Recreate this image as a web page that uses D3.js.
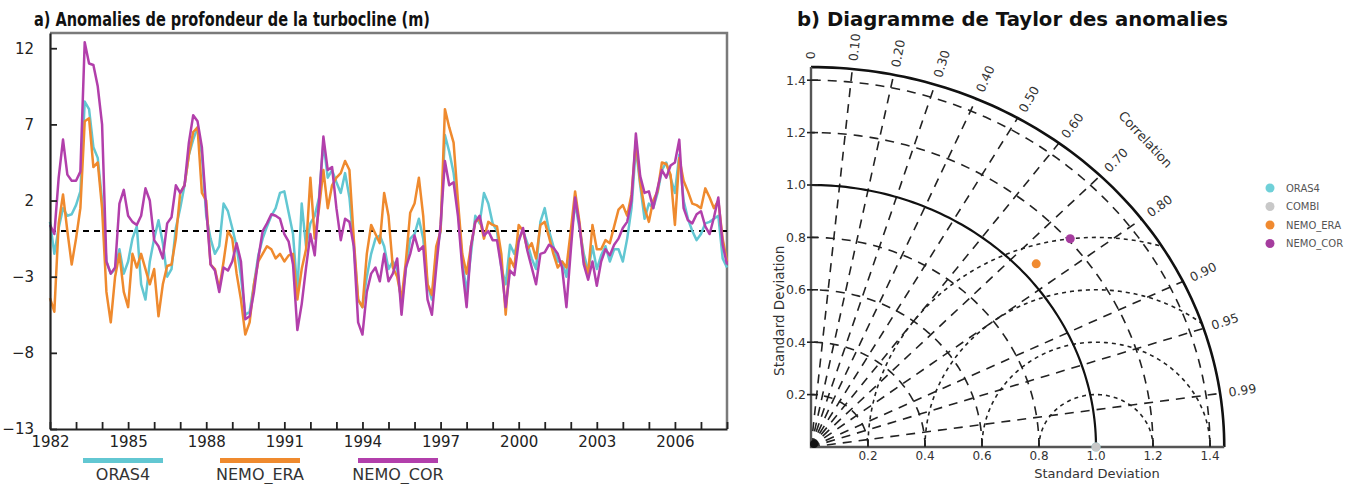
<!DOCTYPE html>
<html><head><meta charset="utf-8">
<script src="https://cdn.jsdelivr.net/npm/d3@7"></script>
<style>body{margin:0;background:#fff} svg{display:block}</style>
</head><body>
<svg id="c" width="1360" height="484"></svg>
<script>
// ---------- DATA: panel a (anomalies, m), one value every 2 months 1982.0 -> 2008.0 ----------
const startYear = 1982;
const endYear = 2008;
const stepsPerYear = 6;
const oras4 = [0.6,-1.5,0.2,1.5,1.0,1.1,1.7,2.6,8.5,8.0,5.5,4.8,2.0,-2.0,-2.8,-2.5,-1.2,-2.8,-2.0,-0.5,0.3,-3.5,-4.5,-2.0,-0.5,0.7,-0.8,-3.0,-2.5,0.2,1.5,3.0,5.0,6.0,6.8,5.0,1.0,-0.5,-1.5,-1.0,1.8,1.3,0.2,-1.0,-3.0,-5.5,-5.3,-3.5,-1.6,-0.5,0.3,1.0,1.5,2.5,2.6,1.2,-0.2,-4.0,1.8,-1.0,0.5,1.0,2.2,5.8,3.5,4.0,3.2,2.5,3.8,2.2,-1.0,-4.5,-5.0,-3.0,-1.5,-0.5,-0.3,-1.0,-2.5,-2.0,-2.5,-4.8,-2.5,-0.5,-0.2,0.8,-0.5,-3.5,-4.5,-1.5,0.0,6.3,5.2,3.8,1.5,-2.0,-4.0,-1.5,1.0,0.5,2.5,1.8,0.5,0.0,-2.4,-3.5,-0.9,-1.5,-0.5,0.0,-0.8,-1.8,-2.5,0.6,1.5,0.0,-1.0,-2.0,-2.0,-3.0,-0.5,1.8,0.2,-1.5,-2.6,-1.0,-2.5,-1.6,-1.0,-2.0,-1.2,-1.2,-2.0,-0.5,1.5,5.5,3.0,0.8,1.8,1.5,2.5,4.0,4.5,3.5,2.5,5.0,2.0,0.8,0.0,-0.6,-0.2,0.5,0.6,0.8,1.0,-1.8,-2.4];
const nemoEra = [-4.4,-5.3,0.5,2.4,0.0,-2.2,-0.5,1.5,7.2,7.4,4.2,4.5,1.5,-4.0,-6.0,-3.0,-1.5,-4.0,-5.0,-1.5,-2.4,-1.5,-2.5,-3.5,-2.5,-5.6,-3.5,-2.3,-2.2,-0.5,2.5,3.0,5.0,6.5,6.8,2.5,2.0,-2.2,-2.5,-3.8,-2.0,0.0,-0.5,-2.8,-4.5,-6.8,-6.0,-3.5,-2.0,-1.5,-1.0,-1.2,-1.8,-1.5,-2.0,-1.6,-1.5,-4.5,-2.5,-1.2,3.5,-0.5,1.5,4.0,1.5,3.0,3.5,3.8,4.6,4.0,-0.5,-4.5,-5.0,-1.5,0.4,-0.2,-0.8,2.5,1.0,-2.4,-3.0,-4.5,-2.0,1.2,1.8,3.5,1.0,-3.5,-4.2,-1.0,0.0,8.0,6.8,5.8,2.0,-1.5,-2.8,-1.0,0.6,0.8,-0.5,0.6,0.4,0.3,-1.5,-5.5,-1.8,-2.4,0.4,0.0,-1.2,-0.8,-1.8,0.4,0.6,-0.4,-1.5,-2.4,-2.0,-2.4,0.0,2.6,0.6,-2.0,-2.8,0.4,-1.2,-1.2,-0.6,-0.8,0.3,1.4,1.7,1.0,2.4,5.9,3.2,1.5,0.6,2.0,2.6,4.5,4.4,3.7,0.4,4.8,3.3,2.6,1.8,1.7,1.5,2.8,2.2,1.5,2.0,-0.5,-2.0];
const nemoCor = [0.4,-0.2,3.5,6.0,3.7,3.3,3.3,3.9,12.4,11.0,10.9,9.5,7.0,-2.0,-2.8,-2.4,1.8,2.7,1.0,0.6,0.4,1.0,2.8,2.0,-0.6,-1.0,-1.8,0.5,0.9,3.0,2.5,3.0,5.8,7.6,7.2,5.5,1.5,-2.2,-2.6,-4.0,-2.4,-2.6,-2.0,-0.8,-2.0,-5.8,-5.6,-4.0,-1.8,0.0,0.5,1.1,1.0,0.8,-0.2,-0.7,-2.2,-6.5,-4.8,-2.4,-0.2,-1.6,2.0,6.2,4.0,4.2,1.5,-0.6,0.8,0.6,-1.0,-6.0,-6.8,-4.0,-2.8,-2.4,-3.3,-1.5,-3.3,-2.8,-1.8,-5.5,-2.4,-1.5,-0.3,-1.3,-1.0,-4.5,-5.5,-2.4,0.4,4.6,3.0,3.2,1.0,-2.4,-5.0,-1.0,0.6,1.0,-0.3,0.0,-0.6,-0.6,-2.4,-5.0,-2.6,-2.9,-0.7,0.2,-1.3,-2.4,-3.5,-1.5,-1.4,-0.9,-1.1,-1.5,-2.4,-5.0,-1.3,2.2,0.4,-2.2,-3.2,-2.0,-3.6,-2.0,-1.2,-1.6,-0.9,-0.5,0.2,0.6,2.0,6.4,3.6,2.5,2.6,1.5,2.8,4.0,3.5,4.3,4.5,6.0,1.5,0.7,0.5,1.1,1.3,0.3,-0.2,0.9,2.2,-0.9,-2.2];
const yTicks = [-13, -8, -3, 2, 7, 12];
const xTickYears = d3.range(1982, 2009);
const xLabelYears = [1982, 1985, 1988, 1991, 1994, 1997, 2000, 2003, 2006];
const seriesNames = ["ORAS4", "NEMO_ERA", "NEMO_COR"];
const seriesColors = ["#62c7d2", "#ef8a2e", "#b23fab"];

// ---------- DATA: panel b (Taylor diagram) ----------
const taylorNames = ["ORAS4", "COMBI", "NEMO_ERA", "NEMO_COR"];
const taylorColors = ["#6fd0d8", "#c8c8c8", "#f08a30", "#a53c9e"];
const taylorStd = [1.0, 1.0, 1.055, 1.208];
const taylorCorr = [1.0, 1.0, 0.749, 0.753];
const corrTicks = [0, 0.1, 0.2, 0.3, 0.4, 0.5, 0.6, 0.7, 0.8, 0.9, 0.95, 0.99];
const corrLabels = ["0", "0.10", "0.20", "0.30", "0.40", "0.50", "0.60", "0.70", "0.80", "0.90", "0.95", "0.99"];
const stdTicks = [0.2, 0.4, 0.6, 0.8, 1.0, 1.2, 1.4];
const stdArcsDashed = [0.2, 0.4, 0.6, 0.8, 1.2, 1.4];
const rmsCircles = [0.2, 0.4, 0.6, 0.8];
const stdMax = 1.45;

const svg = d3.select("#c");
const FONT = "DejaVu Sans, Verdana, sans-serif";

// ================= Panel a =================
const x = d3.scaleLinear().domain([startYear, endYear]).range([50, 727]);
const y = d3.scaleLinear().domain([-13, 13]).range([429, 33]);
const gA = svg.append("g");

gA.append("text").attr("x", 34).attr("y", 26)
  .attr("font-family", FONT).attr("font-weight", "bold").attr("font-size", 20)
  .attr("textLength", 396).attr("lengthAdjust", "spacingAndGlyphs").attr("fill", "#111")
  .text("a) Anomalies de profondeur de la turbocline (m)");

// frame top/right (grey)
gA.append("path").attr("d", `M${x(startYear)},${y(13)}H${x(endYear)}V${y(-13)}`)
  .attr("fill", "none").attr("stroke", "#7a7a7a").attr("stroke-width", 2.5);

// zero line
gA.append("line").attr("x1", x(startYear)).attr("x2", x(endYear)).attr("y1", y(0)).attr("y2", y(0))
  .attr("stroke", "#000").attr("stroke-width", 2).attr("stroke-dasharray", "6,5");

const t = i => startYear + i / stepsPerYear;
const line = d3.line().x((d, i) => x(t(i))).y(d => y(d));
[oras4, nemoEra, nemoCor].forEach((s, k) => {
  gA.append("path").datum(s).attr("d", line).attr("fill", "none")
    .attr("stroke", seriesColors[k]).attr("stroke-width", 2.5).attr("stroke-linejoin", "round");
});

// axes
const ax = gA.append("g").attr("transform", `translate(0,${y(-13)})`)
  .call(d3.axisBottom(x).tickValues(xTickYears).tickSize(-7).tickSizeOuter(0)
    .tickFormat(d => xLabelYears.includes(d) ? d : ""));
const ay = gA.append("g").attr("transform", `translate(${x(startYear)},0)`)
  .call(d3.axisLeft(y).tickValues(yTicks).tickSize(-7).tickSizeOuter(0));
[ax, ay].forEach(a => {
  a.select(".domain").attr("stroke", "#222").attr("stroke-width", 2.2);
  a.selectAll(".tick line").attr("stroke", "#222").attr("stroke-width", 1.8);
  a.selectAll(".tick text").attr("font-family", FONT).attr("font-size", 15).attr("fill", "#222");
});
ax.selectAll(".tick text").attr("dy", "0.95em").attr("y", 4);
ay.selectAll(".tick text").attr("x", -16);

// legend (bars with labels beneath)
const legX = [123, 260, 398];
seriesNames.forEach((n, k) => {
  gA.append("rect").attr("x", legX[k] - 40).attr("y", 458).attr("width", 80).attr("height", 5)
    .attr("fill", seriesColors[k]);
  gA.append("text").attr("x", legX[k]).attr("y", 480).attr("text-anchor", "middle")
    .attr("font-family", FONT).attr("font-size", 16).attr("fill", "#333").text(n);
});

// ================= Panel b: Taylor =================
const sx = d3.scaleLinear().domain([0, stdMax]).range([811, 811 + stdMax * 285]);
const sy = d3.scaleLinear().domain([0, stdMax]).range([447, 447 - stdMax * 262]);
const gB = svg.append("g");
const P = (r, th) => [sx(r * Math.cos(th)), sy(r * Math.sin(th))];
const angles = d3.range(0, 91, 1).map(a => a * Math.PI / 180);
const arcPath = r => d3.line()(angles.map(a => P(r, a)));

gB.append("text").attr("x", 797).attr("y", 26)
  .attr("font-family", FONT).attr("font-weight", "bold").attr("font-size", 20)
  .attr("textLength", 431).attr("lengthAdjust", "spacingAndGlyphs").attr("fill", "#111")
  .text("b) Diagramme de Taylor des anomalies");

// clip
const clipD = "M" + sx(0) + "," + sy(0) + "L" + angles.map(a => P(stdMax, a).join(",")).join("L") + "Z";
svg.append("defs").append("clipPath").attr("id", "quarter").append("path").attr("d", clipD);

// dashed std arcs
stdArcsDashed.forEach(r => gB.append("path").attr("d", arcPath(r)).attr("fill", "none")
  .attr("stroke", "#222").attr("stroke-width", 1.6).attr("stroke-dasharray", "9,7"));
// radial correlation lines
corrTicks.slice(1).forEach(c => {
  const th = Math.acos(c);
  const [x2, y2] = P(stdMax, th);
  gB.append("line").attr("x1", sx(0)).attr("y1", sy(0)).attr("x2", x2).attr("y2", y2)
    .attr("stroke", "#222").attr("stroke-width", 1.6).attr("stroke-dasharray", "9,7");
});
// RMS circles (dotted) centred on reference
const gR = gB.append("g").attr("clip-path", "url(#quarter)");
const phis = d3.range(0, 181, 1).map(a => a * Math.PI / 180);
rmsCircles.forEach(R => gR.append("path")
  .attr("d", d3.line()(phis.map(p => [sx(1 + R * Math.cos(p)), sy(R * Math.sin(p))])))
  .attr("fill", "none").attr("stroke", "#222").attr("stroke-width", 1.6).attr("stroke-dasharray", "4,4"));
// solid std=1 arc and outer arc
gB.append("path").attr("d", arcPath(1.0)).attr("fill", "none").attr("stroke", "#111").attr("stroke-width", 2.2);
gB.append("path").attr("d", arcPath(stdMax)).attr("fill", "none").attr("stroke", "#111").attr("stroke-width", 2.6);
// axes lines
gB.append("path").attr("d", `M${sx(0)},${sy(stdMax)}V${sy(0)}H${sx(stdMax)}`)
  .attr("fill", "none").attr("stroke", "#555").attr("stroke-width", 2.4);
gB.append("circle").attr("cx", sx(0) + 3).attr("cy", sy(0) - 3).attr("r", 4).attr("fill", "#111");

// std ticks + labels
stdTicks.forEach(v => {
  gB.append("line").attr("x1", sx(v)).attr("x2", sx(v)).attr("y1", sy(0)).attr("y2", sy(0) - 7)
    .attr("stroke", "#222").attr("stroke-width", 1.6);
  gB.append("text").attr("x", sx(v)).attr("y", sy(0) + 13).attr("text-anchor", "middle")
    .attr("font-family", FONT).attr("font-size", 12).attr("fill", "#333").text(v.toFixed(1));
  gB.append("line").attr("x1", sx(0) - 4).attr("x2", sx(0) + 7).attr("y1", sy(v)).attr("y2", sy(v))
    .attr("stroke", "#222").attr("stroke-width", 1.6);
  gB.append("text").attr("x", sx(0) - 5).attr("y", sy(v)).attr("dy", "0.35em").attr("text-anchor", "end")
    .attr("font-family", FONT).attr("font-size", 12.5).attr("fill", "#333").text(v.toFixed(1));
});
// correlation labels
corrTicks.forEach((c, i) => {
  const th = Math.acos(c);
  const [lx, ly] = P(1.48, th);
  const deg = th * 180 / Math.PI;
  gB.append("text").attr("transform", `translate(${lx},${ly}) rotate(${-deg})`)
    .attr("dy", "0.35em").attr("font-family", FONT).attr("font-size", 12.5).attr("fill", "#333")
    .text(corrLabels[i]);
});
{
  const [cx, cy] = P(1.66, Math.PI / 4);
  gB.append("text").attr("transform", `translate(${cx},${cy}) rotate(47)`)
    .attr("text-anchor", "middle").attr("dy", "0.35em").attr("font-family", FONT).attr("font-size", 13)
    .attr("fill", "#333").text("Correlation");
}
// axis titles
gB.append("text").attr("x", 1097).attr("y", 478).attr("text-anchor", "middle")
  .attr("font-family", FONT).attr("font-size", 13).attr("fill", "#333").text("Standard Deviation");
gB.append("text").attr("transform", `translate(784,${sy(0.52)}) rotate(-90)`).attr("text-anchor", "middle")
  .attr("font-family", FONT).attr("font-size", 13.5).attr("fill", "#333").text("Standard Deviation");

// points
taylorNames.forEach((n, i) => {
  const [px, py] = P(taylorStd[i], Math.acos(taylorCorr[i]));
  gB.append("circle").attr("cx", px).attr("cy", py).attr("r", 4.5).attr("fill", taylorColors[i]);
});
// legend
taylorNames.forEach((n, i) => {
  const ly = 188 + i * 18.5;
  gB.append("circle").attr("cx", 1270).attr("cy", ly).attr("r", 4.5).attr("fill", taylorColors[i]);
  gB.append("text").attr("x", 1286).attr("y", ly).attr("dy", "0.35em")
    .attr("font-family", FONT).attr("font-size", 10).attr("fill", "#555").text(n);
});
</script>
</body></html>
